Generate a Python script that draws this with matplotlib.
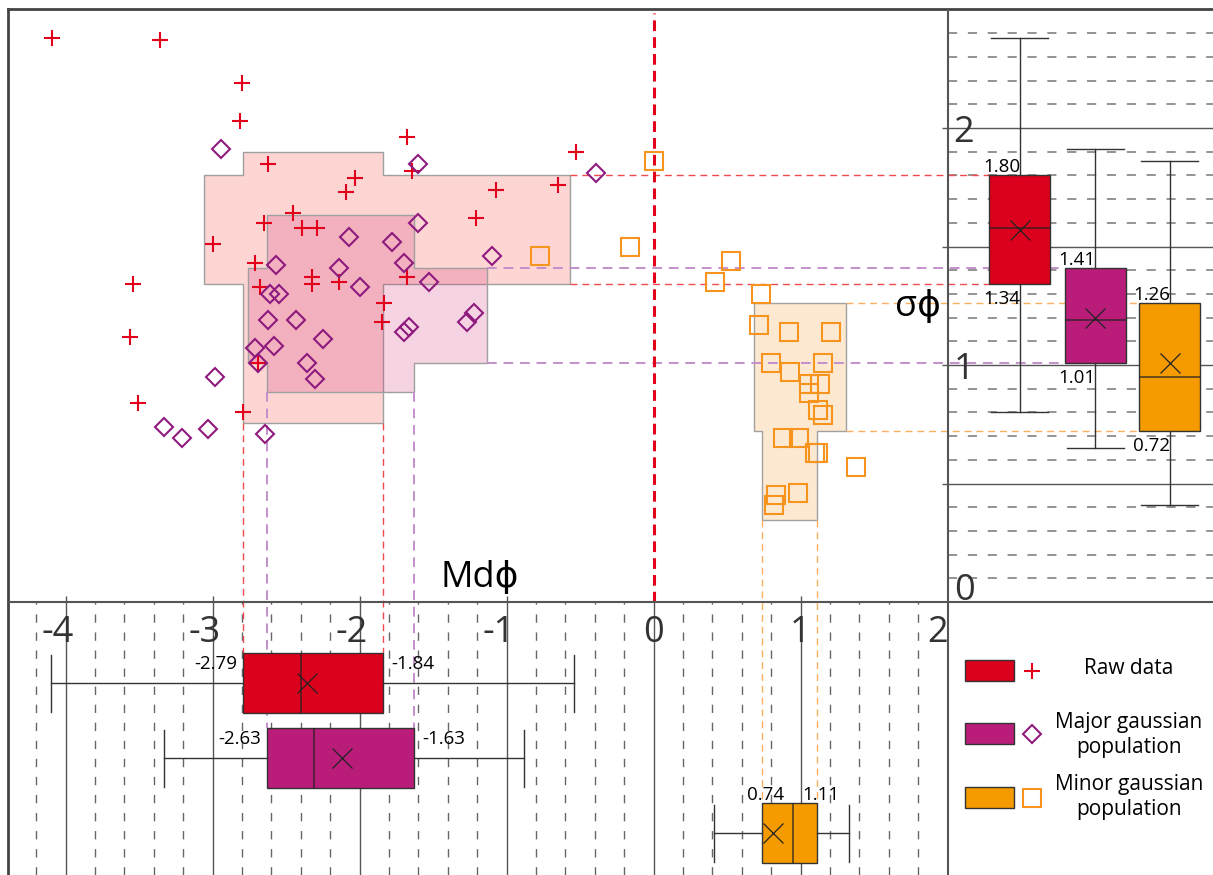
import matplotlib.pyplot as plt
import matplotlib.colors as mcolors
from matplotlib.patches import Polygon, Rectangle
import numpy as np

plt.rcParams['font.family'] = ['Open Sans', 'DejaVu Sans']

# ---------------- data ----------------
# raw data (+)
raw_md = [-4.09, -3.36, -2.80, -2.81, -2.62, -2.03, -2.09, -2.45, -2.65, -2.39, -2.29,
          -3.00, -2.71, -3.54, -2.68, -2.32, -2.32, -2.14, -1.68, -1.64, -0.53, -1.07,
          -0.65, -1.21, -1.68, -1.83, -1.85, -3.56, -2.69, -3.51, -2.79]
raw_sd = [2.38, 2.37, 2.19, 2.03, 1.85, 1.79, 1.73, 1.64, 1.60, 1.58, 1.58,
          1.51, 1.43, 1.34, 1.33, 1.37, 1.34, 1.35, 1.96, 1.82, 1.90, 1.74,
          1.76, 1.62, 1.37, 1.26, 1.18, 1.12, 1.01, 0.84, 0.80]

# major gaussian population (diamonds)
maj_md = [-2.94, -1.60, -0.39, -2.07, -1.78, -1.60, -2.57, -2.14, -1.70, -1.10, -1.53,
          -2.61, -2.55, -2.00, -2.62, -2.43, -2.25, -2.58, -2.71, -2.69, -2.36, -2.30,
          -2.98, -1.70, -1.66, -1.27, -1.22, -3.33, -3.21, -3.03, -2.64]
maj_sd = [1.91, 1.85, 1.81, 1.54, 1.52, 1.60, 1.42, 1.41, 1.43, 1.46, 1.35,
          1.30, 1.30, 1.33, 1.19, 1.19, 1.11, 1.08, 1.07, 1.01, 1.01, 0.94,
          0.95, 1.14, 1.16, 1.18, 1.22, 0.74, 0.69, 0.73, 0.71]

# minor gaussian population (squares)
min_md = [0.00, -0.77, -0.16, 0.53, 0.42, 0.73, 0.72, 0.92, 1.21, 0.80, 1.15, 0.93,
          1.06, 1.13, 1.06, 1.12, 1.15, 0.88, 0.99, 1.10, 1.12, 1.38, 0.98, 0.83, 0.82]
min_sd = [1.86, 1.46, 1.50, 1.44, 1.35, 1.30, 1.17, 1.14, 1.14, 1.01, 1.01, 0.97,
          0.92, 0.92, 0.88, 0.81, 0.79, 0.69, 0.69, 0.63, 0.63, 0.57, 0.46, 0.45, 0.41]

groups = ['raw', 'major', 'minor']
colors = ['#db001b', '#b91c79', '#f59b00']
zone_colors = ['#f52d23', '#cd2373', '#f7941d']
legend_labels = ['Raw data', 'Major gaussian\npopulation', 'Minor gaussian\npopulation']

# box statistics: q1, median, q3, mean, whisker low, whisker high
sd_q1 = [1.34, 1.01, 0.72]
sd_med = [1.58, 1.19, 0.95]
sd_q3 = [1.80, 1.41, 1.26]
sd_mean = [1.57, 1.20, 1.01]
sd_lo = [0.80, 0.65, 0.41]
sd_hi = [2.38, 1.91, 1.86]

md_q1 = [-2.79, -2.63, 0.74]
md_med = [-2.40, -2.31, 0.95]
md_q3 = [-1.84, -1.63, 1.11]
md_mean = [-2.36, -2.12, 0.81]
md_lo = [-4.10, -3.33, 0.41]
md_hi = [-0.54, -0.88, 1.33]

# envelope extents: sigma span of the Md-IQR column, Md span of the sigma-IQR band
col_sd_lo = [0.755, 0.886, 0.346]
col_sd_hi = [1.90, 1.633, 1.262]
band_md_lo = [-3.06, -2.76, 0.684]
band_md_hi = [-0.57, -1.13, 1.31]

md_ticks = [-4, -3, -2, -1, 0, 1, 2]
sd_ticks = [0, 1, 2]

# ---------------- layout (pixel mapping) ----------------
W, H = 1213, 875
X0, SX = 653.5, 147.0   # pixel of Md = 0, pixels per unit
Y0, SY = 602.0, 237.0   # pixel of sigma = 0, pixels per unit


def dx(px):
    return (px - X0) / SX


def dy(py):
    return (Y0 - py) / SY


fig = plt.figure(figsize=(W / 100, H / 100), dpi=100)
ax = fig.add_axes([0, 0, 1, 1])
ax.set_xlim(dx(0), dx(W))
ax.set_ylim(dy(H), dy(0))
ax.axis('off')

xl, xr, xmax = dx(8), 2.0, dx(W)
yt, yb, ymin = dy(9), 0.0, dy(H)

# right panel grid
for v in np.round(np.arange(0.1, 2.45, 0.1), 1):
    if abs(v * 2 - round(v * 2)) < 1e-6:
        ax.hlines(v, xr - 6 / SX, xmax, color='#555555', lw=1, zorder=1)
    else:
        ax.hlines(v, xr, xmax, color='#777777', lw=1.1, ls=(0, (6, 7)), zorder=1)

# bottom panel grid
for v in np.round(np.arange(-4.2, 1.9, 0.2), 1):
    if abs(v - round(v)) < 1e-6:
        ax.vlines(v, ymin, yb + 6 / SY, color='#555555', lw=1, zorder=1)
    else:
        ax.vlines(v, ymin, yb, color='#666666', lw=1, ls=(0, (6, 7)), zorder=1)

# frame
ax.plot([xl, xl], [ymin, yt], color='#444444', lw=2, zorder=6)
ax.plot([xl, xmax], [yt, yt], color='#444444', lw=2, zorder=6)
ax.plot([xr, xr], [ymin, yt], color='#555555', lw=1.5, zorder=6)
ax.plot([xl, xmax], [yb, yb], color='#555555', lw=1.5, zorder=6)

# Md = 0 line
ax.plot([0, 0], [0, dy(13)], color='#e2001a', lw=2.2, ls=(0, (3.5, 2)), zorder=2)

# envelopes
for i in range(3):
    cx0, cx1 = md_q1[i], md_q3[i]
    cy0, cy1 = col_sd_lo[i], col_sd_hi[i]
    bx0, bx1 = band_md_lo[i], band_md_hi[i]
    by0, by1 = sd_q1[i], sd_q3[i]
    verts = [(cx0, cy0), (cx1, cy0), (cx1, by0), (bx1, by0), (bx1, by1), (cx1, by1),
             (cx1, cy1), (cx0, cy1), (cx0, by1), (bx0, by1), (bx0, by0), (cx0, by0)]
    ax.add_patch(Polygon(verts, closed=True, facecolor=mcolors.to_rgba(zone_colors[i], 0.2),
                         edgecolor='#a0a0a0', lw=1, zorder=1.5 + i * 0.1))

# connectors
conn_col = ['#ef4b4b', '#c48fcc', '#fbb061']
conn_lw = [1.0, 1.4, 1.0]
right_pos = [dx(1019.5), dx(1095), dx(1169.5)]
right_w = 61 / SX
bot_pos = [dy(683), dy(758), dy(833)]
bot_h = 60 / SY
for i in range(3):
    for v in (sd_q1[i], sd_q3[i]):
        ax.plot([band_md_hi[i], right_pos[i] - right_w / 2], [v, v], color=conn_col[i],
                lw=conn_lw[i], ls=(0, (5, 3.5)), zorder=1.8)
    for v in (md_q1[i], md_q3[i]):
        ax.plot([v, v], [col_sd_lo[i], bot_pos[i] + bot_h / 2], color=conn_col[i],
                lw=conn_lw[i], ls=(0, (5, 3.5)), zorder=1.8)

# scatter
ax.plot(raw_md, raw_sd, ls='none', marker='+', ms=11.5, mew=1.5, color='#e2001a', zorder=4)
ax.plot(maj_md, maj_sd, ls='none', marker='D', ms=9.3, mfc='none', mec='#8e1a7e',
        mew=1.5, zorder=4)
ax.plot(min_md, min_sd, ls='none', marker='s', ms=12.5, mfc='none', mec='#f7941d',
        mew=1.5, zorder=4)

# boxplots
box_kw = dict(patch_artist=True, showmeans=True, showfliers=False, manage_ticks=False,
              boxprops=dict(edgecolor='#333333', lw=1),
              medianprops=dict(color='#222222', lw=1.3, alpha=0.7),
              meanprops=dict(marker='x', mec='#222222', ms=15, mew=0.9),
              whiskerprops=dict(color='#333333', lw=1),
              capprops=dict(color='#333333', lw=1), zorder=3)

sd_stats = [dict(q1=sd_q1[i], med=sd_med[i], q3=sd_q3[i], mean=sd_mean[i],
                 whislo=sd_lo[i], whishi=sd_hi[i], fliers=[]) for i in range(3)]
bp = ax.bxp(sd_stats, positions=right_pos, widths=right_w, capwidths=57 / SX, **box_kw)
for patch, c in zip(bp['boxes'], colors):
    patch.set_facecolor(c)

md_stats = [dict(q1=md_q1[i], med=md_med[i], q3=md_q3[i], mean=md_mean[i],
                 whislo=md_lo[i], whishi=md_hi[i], fliers=[]) for i in range(3)]
bp2 = ax.bxp(md_stats, positions=bot_pos, widths=bot_h, capwidths=57 / SY,
             orientation='horizontal', **box_kw)
for patch, c in zip(bp2['boxes'], colors):
    patch.set_facecolor(c)

# value labels
lab_fs = 13.5
for i in range(3):
    left = right_pos[i] - right_w / 2
    ax.annotate(f'{sd_q3[i]:.2f}', (left, sd_q3[i]), xytext=(-6, 3), textcoords='offset pixels',
                ha='left', va='baseline', fontsize=lab_fs, zorder=7)
    ax.annotate(f'{sd_q1[i]:.2f}', (left, sd_q1[i]), xytext=(-6, -20), textcoords='offset pixels',
                ha='left', va='baseline', fontsize=lab_fs, zorder=7)
for i in range(2):
    top = bot_pos[i] + bot_h / 2
    ax.annotate(f'{md_q1[i]:.2f}', (md_q1[i], top), xytext=(-6, -16), textcoords='offset pixels',
                ha='right', va='baseline', fontsize=lab_fs, zorder=7)
    ax.annotate(f'{md_q3[i]:.2f}', (md_q3[i], top), xytext=(8, -16), textcoords='offset pixels',
                ha='left', va='baseline', fontsize=lab_fs, zorder=7)
top = bot_pos[2] + bot_h / 2
ax.annotate(f'{md_q1[2]:.2f}', (md_q1[2], top), xytext=(3, 3), textcoords='offset pixels',
            ha='center', va='baseline', fontsize=lab_fs, zorder=7)
ax.annotate(f'{md_q3[2]:.2f}', (md_q3[2], top), xytext=(4, 3), textcoords='offset pixels',
            ha='center', va='baseline', fontsize=lab_fs, zorder=7)

# tick labels
tick_fs = 26
for t in md_ticks:
    if t < 0:
        ax.text(t + 8 / SX, dy(642), f'{t}', ha='right', va='baseline', fontsize=tick_fs,
                color='#333333', zorder=7)
    elif t == 2:
        ax.text(t, dy(642), f'{t}', ha='right', va='baseline', fontsize=tick_fs,
                color='#333333', zorder=7)
    else:
        ax.text(t, dy(642), f'{t}', ha='center', va='baseline', fontsize=tick_fs,
                color='#333333', zorder=7)
for t in sd_ticks:
    yb_ = t - 0.06 if t > 0 else t + 0.008
    ax.text(dx(964), yb_, f'{t}', ha='center', va='baseline', fontsize=tick_fs,
            color='#333333', zorder=7)

# axis titles
ax.text(dx(480), dy(587), 'Md\u03d5', ha='center', va='baseline', fontsize=26, zorder=7)
ax.text(dx(918), dy(316), '\u03c3\u03d5', ha='center', va='baseline', fontsize=26, zorder=7)

# legend
leg_y = [670.5, 733.5, 797.5]
leg_txt_y = [669, 735, 797]
markers = [dict(marker='+', ms=11.5, mew=1.5, color='#e2001a'),
           dict(marker='D', ms=9.3, mfc='none', mec='#8e1a7e', mew=1.5),
           dict(marker='s', ms=12.5, mfc='none', mec='#f7941d', mew=1.5)]
for i in range(3):
    ax.add_patch(Rectangle((dx(965), dy(leg_y[i] + 10.5)), 49 / SX, 21 / SY,
                           facecolor=colors[i], edgecolor='#333333', lw=1, zorder=7))
    ax.plot([dx(1032)], [dy(leg_y[i])], ls='none', zorder=7, **markers[i])
    ax.text(dx(1129), dy(leg_txt_y[i]), legend_labels[i], ha='center', va='center',
            fontsize=15, linespacing=1.3, zorder=7)

fig.savefig('out.png', dpi=100)
